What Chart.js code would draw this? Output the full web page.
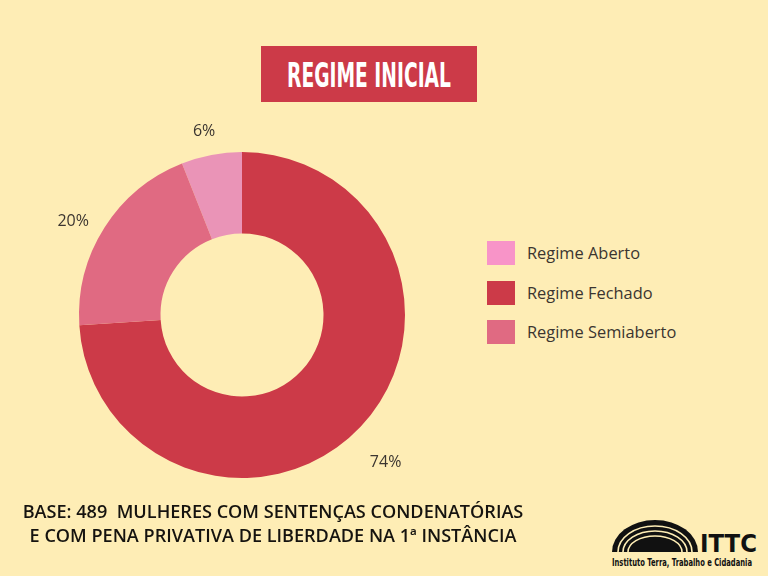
<!DOCTYPE html>
<html>
<head>
<meta charset="utf-8">
<script src="https://cdn.jsdelivr.net/npm/chart.js@4"></script>
<style>
  html, body { margin: 0; padding: 0; }
  body { width: 768px; height: 576px; background: #feedb5; position: relative; overflow: hidden; font-family: "Open Sans", sans-serif; }
  .title { position: absolute; left: 261px; top: 46px; width: 216px; height: 56px; background: #cc3a48; overflow: hidden; }
  .title span { position: absolute; left: 50%; top: 0; white-space: nowrap; color: #fff;
                font-family: "DejaVu Sans", sans-serif; font-weight: bold; font-size: 34px; line-height: 58px;
                transform: translateX(-50%) scaleX(0.55); }
  .chart-box { position: absolute; left: 0; top: 110px; width: 484px; height: 410px; }
  .legend { position: absolute; left: 487px; top: 241px; }
  .legend div { height: 39.5px; display: flex; align-items: flex-start; color: #3b3530; font-size: 16.4px; }
  .legend span.box { width: 28px; height: 24px; margin-right: 12px; }
  .legend span.txt { line-height: 24px; }
  .base { position: absolute; left: 0; top: 499px; width: 546px; text-align: center; font-size: 18.1px; font-weight: 600; color: #15130f; line-height: 24px; white-space: nowrap; }
  .logo { position: absolute; left: 610px; top: 515px; }
</style>
</head>
<body>
<div class="title"><span>REGIME INICIAL</span></div>
<div class="chart-box"><canvas id="regimeChart"></canvas></div>
<div class="legend" id="legend"></div>
<div class="base">BASE: 489&nbsp; MULHERES COM SENTENÇAS CONDENATÓRIAS<br>E COM PENA PRIVATIVA DE LIBERDADE NA 1ª INSTÂNCIA</div>
<div class="logo">
  <svg width="155" height="58" viewBox="0 0 155 58">
    <path d="M2 37 A43 32 0 0 1 88 37 Z" fill="#111"/>
    <path d="M8 37 A37 26 0 0 1 82 37" fill="none" stroke="#feedb5" stroke-width="1.6"/>
    <path d="M13 37 A32 21 0 0 1 77 37" fill="none" stroke="#feedb5" stroke-width="1.6"/>
    <path d="M18 37 A27 16 0 0 1 72 37" fill="none" stroke="#feedb5" stroke-width="1.6"/>
    <text x="90" y="37" textLength="57" lengthAdjust="spacingAndGlyphs" font-family="DejaVu Sans, sans-serif" font-weight="bold" font-size="25" fill="#111">ITTC</text>
    <text x="2" y="51" textLength="140" lengthAdjust="spacingAndGlyphs" font-family="DejaVu Sans, sans-serif" font-weight="bold" font-size="10" fill="#111">Instituto Terra, Trabalho e Cidadania</text>
  </svg>
</div>
<script>
// Data for the doughnut chart
const categories = ['Regime Aberto', 'Regime Fechado', 'Regime Semiaberto'];
const percentages = [6, 74, 20];
const sliceColors = ['#ea94b7', '#cc3a48', '#e06a82'];
const legendColors = ['#f894c8', '#cc3a48', '#e06a82'];

// Build the legend
const legend = document.getElementById('legend');
categories.forEach((name, i) => {
    const row = document.createElement('div');
    row.innerHTML = '<span class="box" style="background:' + legendColors[i] + '"></span><span class="txt">' + name + '</span>';
    legend.appendChild(row);
});

// Draws the percent labels outside each slice (small nudges to sit like the original)
const labelGap = [24, 43, 30];
const labelTurn = [-0.9, 2.6, -3.4];
const outsideLabels = {
    id: 'outsideLabels',
    afterDatasetsDraw(chart) {
        const ctx = chart.ctx;
        const meta = chart.getDatasetMeta(0);
        ctx.save();
        ctx.font = '16px "Open Sans", sans-serif';
        ctx.fillStyle = '#3b3530';
        ctx.textAlign = 'center';
        ctx.textBaseline = 'middle';
        meta.data.forEach((arc, i) => {
            const mid = (arc.startAngle + arc.endAngle) / 2 + labelTurn[i] * Math.PI / 180;
            const r = arc.outerRadius + labelGap[i];
            ctx.fillText(percentages[i] + '%', arc.x + Math.cos(mid) * r, arc.y + Math.sin(mid) * r);
        });
        ctx.restore();
    }
};

const ctx = document.getElementById('regimeChart').getContext('2d');
new Chart(ctx, {
    type: 'doughnut',
    data: {
        labels: categories,
        datasets: [{
            data: percentages,
            backgroundColor: sliceColors,
            borderWidth: 0,
        }],
    },
    options: {
        responsive: true,
        maintainAspectRatio: false,
        animation: false,
        rotation: -21.6,
        cutout: '50%',
        layout: { padding: { left: 79, right: 79, top: 42, bottom: 42 } },
        plugins: {
            legend: { display: false },
            tooltip: { enabled: false },
        },
    },
    plugins: [outsideLabels],
});
</script>
</body>
</html>
